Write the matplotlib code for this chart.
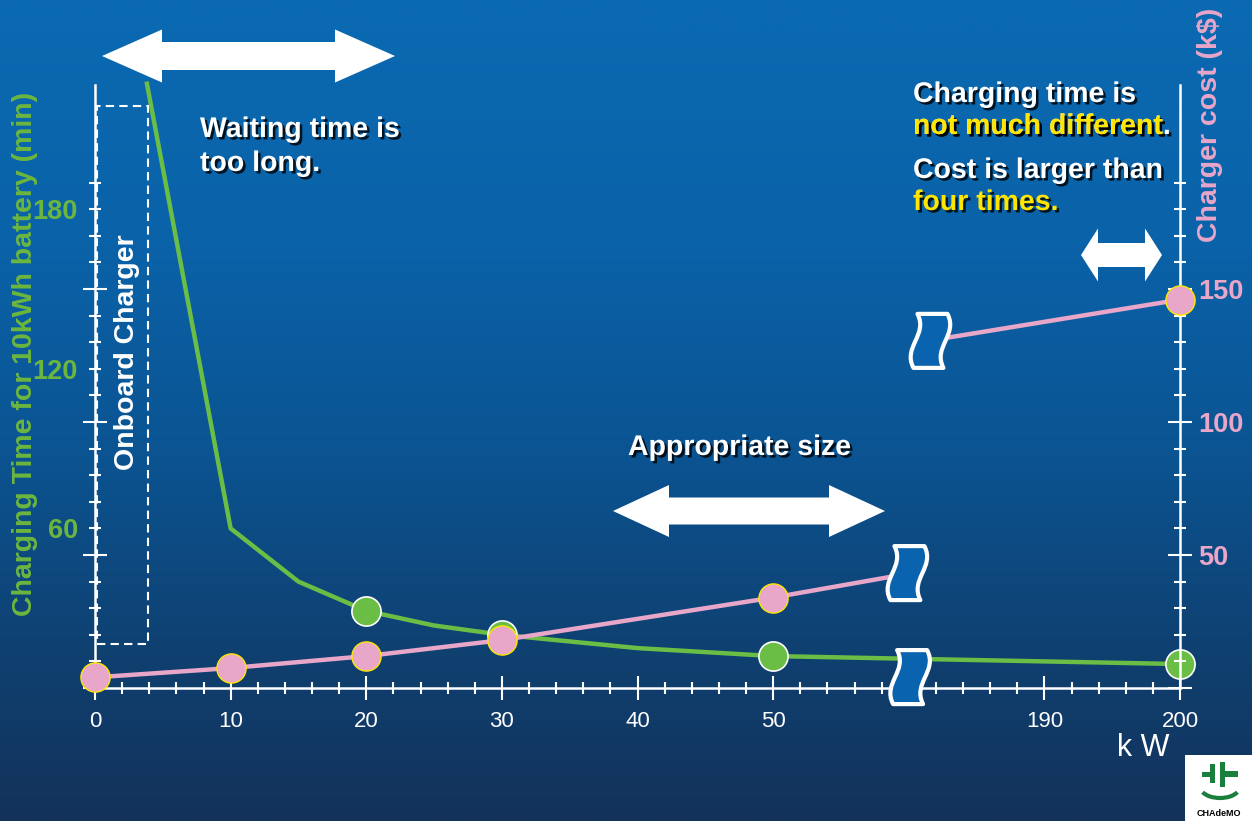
import matplotlib
matplotlib.use("Agg")
import matplotlib.pyplot as plt
import matplotlib.patheffects as pe
import numpy as np
from matplotlib.patches import Polygon, Rectangle, PathPatch, Arc
from matplotlib.path import Path

plt.rcParams["font.family"] = ["Liberation Sans", "DejaVu Sans"]

################################################################################
# Data
################################################################################
time_kw         = [3.8, 10, 15, 20, 25, 30, 40, 50, 200]
time_min        = [228, 60, 40, 29, 23.5, 20, 15, 12, 9]
time_marker_idx = [3, 5, 7, 8]

cost_kw_low     = [0, 10, 20, 30, 50, 60]
cost_k_low      = [4, 7.5, 12, 18, 34, 43]
cost_kw_high    = [182, 200]
cost_k_high     = [131, 146]

x_tick_kw       = [0, 10, 20, 30, 40, 50, 190, 200]
left_labels     = [60, 120, 180]
right_labels    = [50, 100, 150]

########################################
# Axis break: 60..180 kW is cut out
########################################
BREAK_SHIFT = 120

def kw_pos(kw):
    kw = np.asarray(kw, dtype=float)
    return np.where(kw >= 120, kw - BREAK_SHIFT, kw)

################################################################################
# Style
################################################################################
W, H        = 1252, 821
GREEN       = "#6abd45"
GREEN_TXT   = "#6cb63f"
PINK        = "#e8a6c9"
YELLOW      = "#ffe600"
BREAK_BLUE  = "#0a63ae"
FS          = 20.5

shadow = [pe.withSimplePatchShadow(offset=(1.8, -1.8), shadow_rgbFace="black", alpha=0.8)]

def fx(x):
    return x / W

def fy(y):
    return 1 - y / H

fig = plt.figure(figsize=(W / 100, H / 100), dpi=100)

########################################
# Background gradient
########################################
bg = fig.add_axes([0, 0, 1, 1], zorder=-10)
stops   = [0.0, 0.30, 0.55, 0.80, 1.0]
cols    = np.array([[10, 106, 178], [10, 98, 168], [11, 84, 146], [15, 64, 112], [19, 50, 90]]) / 255
t       = np.linspace(0, 1, 400)
grad    = np.stack([np.interp(t, stops, cols[:, i]) for i in range(3)], axis=-1)
bg.imshow(grad[:, None, :], aspect="auto", extent=[0, 1, 0, 1])
bg.set_axis_off()

################################################################################
# Main axes (charging time, left)
################################################################################
ax_left, ax_right, ax_bot, ax_top = 95, 1180, 688, 85
ax = fig.add_axes([fx(ax_left), fy(ax_bot), fx(ax_right - ax_left), (ax_bot - ax_top) / H])
XMAX, YMAX = 80, 226.7
ax.set_xlim(0, XMAX)
ax.set_ylim(0, YMAX)
ax.patch.set_alpha(0)

for side in ["top", "right"]:
    ax.spines[side].set_visible(False)
for side in ["left", "bottom"]:
    ax.spines[side].set_color("white")
    ax.spines[side].set_linewidth(1.8)

ax.set_xticks(kw_pos(x_tick_kw), [str(v) for v in x_tick_kw])
ax.set_xticks(np.arange(0, XMAX + 1, 2), minor=True)
ax.tick_params(axis="x", which="major", direction="inout", length=17, width=1.5,
               color="white", labelcolor="white", labelsize=16, pad=8)
ax.tick_params(axis="x", which="minor", direction="inout", length=8.6, width=1.5, color="white")

minor_y = np.arange(0, 200, 10)
ax.set_yticks([0, 50, 100, 150], [""] * 4)
ax.set_yticks(minor_y, [str(v) if v in left_labels else "" for v in minor_y], minor=True)
ax.tick_params(axis="y", which="major", direction="inout", length=17, width=1.5, color="white")
ax.tick_params(axis="y", which="minor", direction="inout", length=8.6, width=1.5,
               color="white", labelcolor=GREEN_TXT, labelsize=19.5, pad=8)
for lab in ax.get_yticklabels(minor=True):
    lab.set_fontweight("bold")

ax.plot(kw_pos(time_kw), time_min, color=GREEN, lw=3.2, solid_capstyle="butt",
        solid_joinstyle="round", marker="o", markevery=time_marker_idx, ms=21,
        mfc=GREEN, mec="white", mew=1.2, clip_on=False, zorder=3)

################################################################################
# Twin axes (charger cost, right)
################################################################################
ax2 = ax.twinx()
ax2.set_ylim(0, YMAX)
for side in ["top", "left", "bottom"]:
    ax2.spines[side].set_visible(False)
ax2.spines["right"].set_color("white")
ax2.spines["right"].set_linewidth(1.8)
ax2.set_yticks([0, 50, 100, 150], ["" if v not in right_labels else str(v) for v in [0, 50, 100, 150]])
ax2.set_yticks(minor_y, minor=True)
ax2.tick_params(axis="y", which="major", direction="inout", length=17, width=1.5,
                color="white", labelcolor=PINK, labelsize=19.5, pad=4.5)
ax2.tick_params(axis="y", which="minor", direction="inout", length=8.6, width=1.5, color="white")
for lab in ax2.get_yticklabels():
    lab.set_fontweight("bold")

ax2.plot(kw_pos(cost_kw_low), cost_k_low, color=PINK, lw=3.2, marker="o",
         markevery=[0, 1, 2, 3, 4], ms=21, mfc=PINK, mec=YELLOW, mew=1.0,
         clip_on=False, zorder=3)
ax2.plot(kw_pos(cost_kw_high), cost_k_high, color=PINK, lw=3.2, marker="o",
         markevery=[1], ms=21, mfc=PINK, mec=YELLOW, mew=1.0, clip_on=False, zorder=3)

########################################
# Break symbols
########################################
px_x = (ax_right - ax_left) / XMAX
px_y = (ax_bot - ax_top) / YMAX
break_verts = [(-13, 27), (-2, 6), (-28, -6), (-17, -27), (13, -27),
               (2, -6), (28, 6), (17, 27), (-13, 27)]
break_codes = [Path.MOVETO, Path.CURVE4, Path.CURVE4, Path.CURVE4, Path.LINETO,
               Path.CURVE4, Path.CURVE4, Path.CURVE4, Path.CLOSEPOLY]
for bx, by in [(60.1, 4.1), (59.9, 43.2), (61.6, 130.5)]:
    verts = [(bx + vx / px_x, by + vy / px_y) for vx, vy in break_verts]
    ax2.add_patch(PathPatch(Path(verts, break_codes), facecolor=BREAK_BLUE,
                            edgecolor="white", lw=3, joinstyle="round",
                            clip_on=False, zorder=5))

################################################################################
# Decorations: arrows, dashed box, texts
################################################################################
def double_arrow(x0, x1, yc, head_len, head_h, shaft_h):
    pts = [(x0, yc), (x0 + head_len, yc - head_h / 2), (x0 + head_len, yc - shaft_h / 2),
           (x1 - head_len, yc - shaft_h / 2), (x1 - head_len, yc - head_h / 2), (x1, yc),
           (x1 - head_len, yc + head_h / 2), (x1 - head_len, yc + shaft_h / 2),
           (x0 + head_len, yc + shaft_h / 2), (x0 + head_len, yc + head_h / 2)]
    fig.patches.append(Polygon([(fx(x), fy(y)) for x, y in pts], closed=True,
                               facecolor="white", edgecolor="none",
                               transform=fig.transFigure, zorder=4))

double_arrow(102, 395, 56, 60, 53, 28)
double_arrow(613, 885, 511, 56, 52, 27)
double_arrow(1081, 1162, 255, 17, 53, 24)

fig.patches.append(Rectangle((fx(97), fy(644)), fx(148 - 97), (644 - 106) / H,
                             fill=False, edgecolor="white", lw=1.5,
                             linestyle=(0, (4, 2.5)), transform=fig.transFigure, zorder=4))
fig.text(fx(127), fy(352), "Onboard Charger", rotation=90, color="white",
         fontsize=FS, fontweight="bold", ha="center", va="center")

def slide_text(x, y, s, color="white"):
    fig.text(fx(x), fy(y), s, color=color, fontsize=FS, fontweight="bold",
             ha="left", va="baseline", path_effects=shadow, zorder=5)

slide_text(200, 137, "Waiting time is")
slide_text(200, 171, "too long.")
slide_text(628, 455, "Appropriate size")
slide_text(913, 102, "Charging time is")
slide_text(913, 134, "not much different.")
slide_text(913, 134, "not much different", YELLOW)
slide_text(913, 178, "Cost is larger than")
slide_text(913, 210, "four times.", YELLOW)

fig.text(fx(25), fy(354), "Charging Time for 10kWh battery (min)", rotation=90,
         color=GREEN_TXT, fontsize=FS, fontweight="bold", ha="center", va="center")
fig.text(fx(1210), fy(242), "Charger cost (k$)", rotation=90, color=PINK,
         fontsize=FS, fontweight="bold", ha="center", va="bottom")
fig.text(fx(1143), fy(748), "k W", color="white", fontsize=22, ha="center", va="center")

########################################
# CHAdeMO logo
########################################
LOGO_GREEN = "#1a7f3c"
fig.patches.append(Rectangle((fx(1185), 0), fx(W - 1185), (H - 755) / H, facecolor="white",
                             edgecolor="none", transform=fig.transFigure, zorder=4))
for x0, y0, x1, y1 in [(1202, 772, 1211, 777), (1210, 764, 1215, 783),
                       (1220, 762, 1225, 787), (1224, 771, 1238, 777)]:
    fig.patches.append(Rectangle((fx(x0), fy(y1)), fx(x1 - x0), (y1 - y0) / H,
                                 facecolor=LOGO_GREEN, edgecolor="none",
                                 transform=fig.transFigure, zorder=5))
fig.patches.append(Arc((fx(1220), fy(788)), fx(38), 20 / H, theta1=200, theta2=340,
                       color=LOGO_GREEN, lw=3, transform=fig.transFigure, zorder=5))
fig.text(fx(1219), fy(813), "CHAdeMO", color="black", fontsize=6.5, fontweight="bold",
         ha="center", va="center", zorder=5)

fig.savefig("out.png", dpi=100)
